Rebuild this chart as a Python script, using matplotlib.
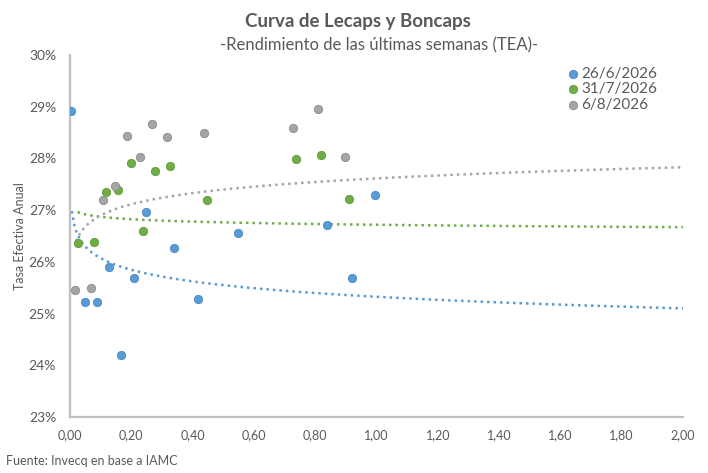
import numpy as np
import matplotlib
matplotlib.use("Agg")
import matplotlib.pyplot as plt

# Datos (plazo en anios, TEA en %)
x_jun = [0.003, 0.049, 0.088, 0.127, 0.166, 0.209, 0.248, 0.339, 0.418, 0.548, 0.838, 0.920, 0.995]
y_jun = [28.92, 25.22, 25.22, 25.90, 24.20, 25.69, 26.96, 26.27, 25.28, 26.56, 26.71, 25.69, 27.29]

x_jul = [0.025, 0.077, 0.117, 0.156, 0.198, 0.238, 0.277, 0.326, 0.446, 0.736, 0.819, 0.909]
y_jul = [26.37, 26.39, 27.36, 27.39, 27.92, 26.60, 27.76, 27.86, 27.20, 27.98, 28.07, 27.22]

x_ago = [0.015, 0.067, 0.107, 0.147, 0.185, 0.227, 0.266, 0.315, 0.436, 0.727, 0.808, 0.896]
y_ago = [25.46, 25.50, 27.20, 27.47, 28.44, 28.03, 28.67, 28.42, 28.50, 28.59, 28.96, 28.03]

# lineas de tendencia logaritmicas tal como aparecen: y = a*ln(x) + b, desde x0 hasta 2
trend_a = [-0.324, -0.067, 0.311]
trend_b = [25.325, 26.717, 27.614]
trend_x0 = [0.006, 0.025, 0.02]

labels = ["26/6/2026", "31/7/2026", "6/8/2026"]
colors = ["#5b9bd5", "#70ad47", "#a5a5a5"]
edge = ["#4a8ac4", "#5f9c38", "#8c8c8c"]

x_ticks = np.arange(0, 2.01, 0.2)
y_ticks = np.arange(23, 30.1, 1)

plt.rcParams['font.family'] = ['Lato', 'DejaVu Sans']
txt = "#595959"

fig = plt.figure(figsize=(7.08, 4.73), dpi=100)
ax = fig.add_axes([0.0989, 0.1184, 0.8658, 0.7653])

series = [(x_jun, y_jun), (x_jul, y_jul), (x_ago, y_ago)]
for i, ((xs, ys), lab, c, ec) in enumerate(zip(series, labels, colors, edge)):
    xt = np.linspace(trend_x0[i], 2.0, 300)
    ax.plot(xt, trend_a[i] * np.log(xt) + trend_b[i], color=c, lw=1.8,
            ls=(0, (1.0, 1.6)), dash_capstyle='butt', zorder=2)
    ax.scatter(xs, ys, s=36, color=c, edgecolors=ec, linewidths=0.6, label=lab, zorder=3)

ax.set_xlim(0, 2.0)
ax.set_ylim(23, 30)
ax.set_xticks(x_ticks)
ax.set_xticklabels([f"{v:.2f}".replace(".", ",") for v in x_ticks])
ax.set_yticks(y_ticks)
ax.set_yticklabels([f"{int(v)}%" for v in y_ticks])
ax.tick_params(length=0, colors=txt)
ax.tick_params(axis='x', pad=9, labelsize=9)
ax.tick_params(axis='y', pad=10, labelsize=10)

for s in ["top", "right"]:
    ax.spines[s].set_visible(False)
for s in ["left", "bottom"]:
    ax.spines[s].set_color("#bfbfbf")
    ax.spines[s].set_linewidth(1.6)

ax.set_ylabel("Tasa Efectiva Anual", color=txt, fontsize=9, labelpad=2)

leg = ax.legend(loc="upper left", bbox_to_anchor=(0.80, 0.985), frameon=False,
                handletextpad=0.15, handlelength=0.8, labelspacing=0.1, fontsize=11,
                markerscale=1.0, borderaxespad=0)
for t in leg.get_texts():
    t.set_color(txt)

fig.text(0.505, 0.955, "Curva de Lecaps y Boncaps", ha="center", va="center",
         fontsize=13.5, fontweight="bold", color=txt)
fig.text(0.535, 0.905, "-Rendimiento de las últimas semanas (TEA)-", ha="center",
         va="center", fontsize=12, color=txt)
fig.text(0.008, 0.025, "Fuente: Invecq en base a IAMC", ha="left", va="center",
         fontsize=9, color=txt)

fig.savefig("out.png", dpi=100)
